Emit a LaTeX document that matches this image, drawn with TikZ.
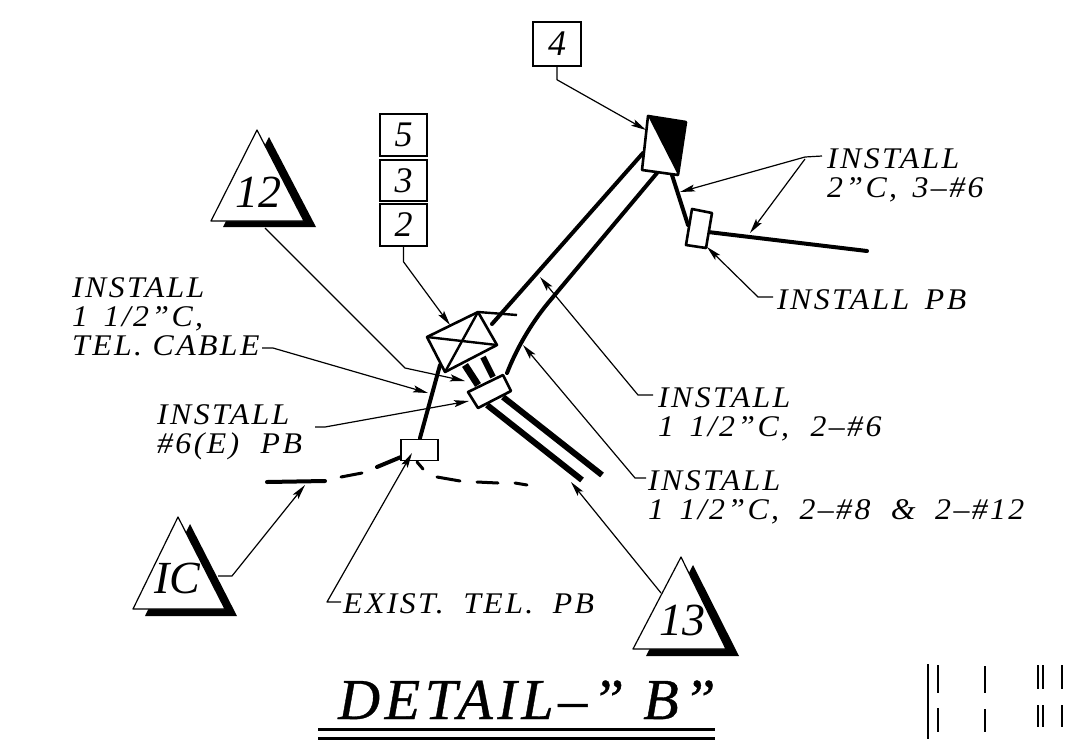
\documentclass[tikz,border=0pt]{standalone}
\usepackage{fontspec}
\setmainfont{Liberation Serif}
\usetikzlibrary{arrows.meta}
\newfontfamily\lbl[LetterSpace=8,FakeStretch=1.06,WordSpace=1.5]{Liberation Serif Italic}
\newfontfamily\numf{Liberation Serif Italic}
\newfontfamily\ttlf[LetterSpace=8,FakeBold=0.6]{Liberation Serif Italic}
\tikzset{
  leader/.style={line width=1.2pt,-{Stealth[length=15pt,width=7pt,inset=3pt]},line join=round},
  conduit/.style={line width=4pt,line cap=round,line join=round},
  thinduit/.style={line width=3pt,line join=round,line cap=round},
  widebar/.style={line width=6pt},
  wall/.style={line width=2.6pt,line join=round,fill=white},
  label/.style={inner sep=0pt,anchor=north west,align=left,font=\lbl\fontsize{30}{29}\selectfont},
  numbox/.style={draw=black,line width=1.5pt,inner sep=0pt,minimum width=47pt,font=\numf\fontsize{36}{36}\selectfont},
  trinum/.style={inner sep=0pt,font=\numf\fontsize{46}{46}\selectfont},
  tri/.style={draw=black,fill=white,line width=1.2pt,line join=round},
  shadow/.style={fill=black}
}
\begin{document}
\begin{tikzpicture}[x=1pt,y=-1pt]
\useasboundingbox (0,0) rectangle (1070,740);
% named points
\coordinate (ja) at (427,337); \coordinate (jb) at (478,312); \coordinate (jc) at (497,345); \coordinate (jd) at (445,372);
\coordinate (je) at (517,315);
\coordinate (ua) at (648,116); \coordinate (ub) at (686,122); \coordinate (uc) at (678,175); \coordinate (ud) at (642,170);
\coordinate (pa) at (692,209); \coordinate (pb) at (712,213); \coordinate (pc) at (706,248); \coordinate (pd) at (686,245);
\coordinate (ma) at (468,392); \coordinate (mb) at (503,375); \coordinate (mc) at (511,391); \coordinate (md) at (478,408);
% conduits
\draw[conduit] (492,324) -- (643,153);
\draw[conduit] (507,373) .. controls (516,350) and (530,325) .. (548,303) -- (657,173);
\draw[conduit] (672,175) -- (688,225);
\draw[conduit] (708,232) -- (867,251);
\draw[conduit] (440,365) -- (420,438);
\draw[widebar,line width=7pt] (465,365) -- (478,385);
\draw[widebar] (483,357) -- (493,377);
\draw[widebar] (503,397) -- (602,475);
\draw[widebar] (487,405) -- (582,480);
% existing line
\draw[conduit] (267,482) -- (325,481);
\draw[thinduit] (341,477) -- (362,473);
\draw[conduit] (377,467) -- (401,457);
\draw[thinduit] (417,462) -- (423,469);
\draw[thinduit] (437,477) -- (460,481);
\draw[thinduit] (477,482) -- (498,483);
\draw[thinduit] (515,483) -- (527,485);
% junction box
\draw[wall] (ja) -- (jb) -- (jc) -- (jd) -- cycle;
\draw[line width=2.4pt] (ja) -- (jc) (jb) -- (jd) (jb) -- (je);
% upper box
\draw[wall] (ua) -- (ub) -- (uc) -- (ud) -- cycle;
\fill (ua) -- (ub) -- (uc) -- cycle;
% PB boxes
\draw[wall] (pa) -- (pb) -- (pc) -- (pd) -- cycle;
\draw[wall] (ma) -- (mb) -- (mc) -- (md) -- cycle;
\node[draw=black,line width=1.6pt,fill=white,minimum width=37pt,minimum height=21pt,inner sep=0pt] (telpb) at (419.5,450) {};
% number boxes
\node[numbox,minimum height=42pt] (n5) at (403.5,135) {5};
\node[numbox,minimum height=41pt] (n3) at (403.5,180.5) {3};
\node[numbox,minimum height=42pt] (n2) at (403.5,225) {2};
\node[numbox,minimum width=48pt,minimum height=44pt] (n4) at (557,44) {4};
% triangles
\fill[shadow] (269,137) -- (316,227) -- (223,227) -- cycle;
\draw[tri] (257,130) -- (304,221) -- (211,221) -- cycle;
\node[trinum] (t12) at (258,192) {12};
\fill[shadow] (190,524) -- (237,616) -- (145,616) -- cycle;
\draw[tri] (178,517) -- (225,609) -- (133,609) -- cycle;
\node[trinum] (tic) at (177,578) {IC};
\fill[shadow] (693,565) -- (739,656) -- (646,656) -- cycle;
\draw[tri] (681,557) -- (726,649) -- (633,649) -- cycle;
\node[trinum] (t13) at (682,620) {13};
% labels
\node[label] (linstel) at (72,277) {INSTALL\\1 1/2”C,\\TEL.\hspace{-5pt} CABLE};
\node[label] (lin6) at (157,404) {INSTALL\\\#6(E)\hspace{6pt} PB};
\node[label] (lin2) at (827,148) {INSTALL\\2”C, 3–\#6};
\node[label] (linpb) at (777,289) {INSTALL PB};
\node[label] (lin26) at (658,387) {INSTALL\\1 1/2”C,\hspace{6pt} 2–\#6};
\node[label] (lin28) at (648,470) {INSTALL\\1 1/2”C,\hspace{5pt} 2–\#8\hspace{5pt} \&\hspace{4pt} 2–\#12};
\node[label] (lex) at (343,593) {EXIST.\hspace{4pt} TEL.\hspace{4pt} PB};
\node[inner sep=0pt,anchor=base west,font=\ttlf\fontsize{58}{58}\selectfont] (title) at (338,719) {DETAIL–” B”};
\draw[line width=3pt] (318,729) -- (715,729);
\draw[line width=3pt] (318,738) -- (715,738);
% leaders
\draw[leader] (n4.south) -- ++(0,13) -- (646,130);
\draw[leader] (n2.south) -- ++(0,15) -- (450,325);
\draw[leader] (265,228) -- (405,368) -- (465,381);
\draw[leader] (262,348) -- (273,348) -- (428,393);
\draw[leader] (315,427) -- (325,427) -- (469,401);
\draw[leader] (822,156) -- (805,157) -- (680,192);
\draw[leader] (805,159) -- (750,233);
\draw[leader] (773,297) -- (758,297) -- (707,247);
\draw[leader] (653,395) -- (638,395) -- (540,277);
\draw[leader] (646,478) -- (635,478) -- (523,345);
\draw[leader] (661,593) -- (571,482);
\draw[leader] (218,576) -- (232,576) -- (305,485);
\draw[leader] (341,602) -- (327,602) -- (412,453);
% marks
\draw[line width=2.2pt] (928,664) -- (928,739);
\draw[line width=1.2pt] (938,665) -- (938,693) (938,708) -- (938,732);
\draw[line width=1.2pt] (985,666) -- (985,693) (985,709) -- (985,732);
\draw[line width=1.4pt] (1038,665) -- (1038,689) (1038,705) -- (1038,727);
\draw[line width=1.4pt] (1043,665) -- (1043,689) (1043,705) -- (1043,727);
\draw[line width=1.2pt] (1062,665) -- (1062,689) (1062,705) -- (1062,727);
\end{tikzpicture}
\end{document}
